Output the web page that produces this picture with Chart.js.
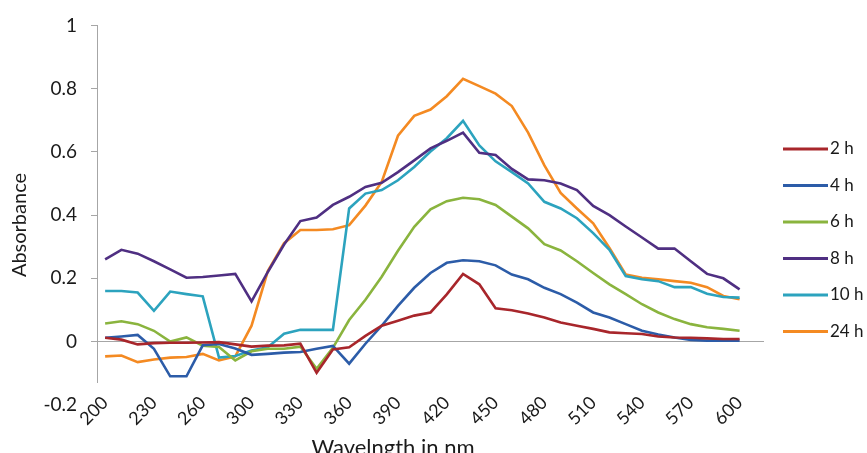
<!DOCTYPE html>
<html>
<head>
<meta charset="utf-8">
<title>Absorbance vs wavelength</title>
<script src="https://cdn.jsdelivr.net/npm/chart.js@4"></script>
<style>
  body { margin: 0; background: #fff; }
  #wrap { width: 867px; height: 453px; }
</style>
</head>
<body>
<div id="wrap"><canvas id="absChart"></canvas></div>
<script>
// wavelengths (nm) - note 290 is not in the data set
const wavelengths = [200, 210, 220, 230, 240, 250, 260, 270, 280,
    300, 310, 320, 330, 340, 350, 360, 370, 380, 390, 400, 410, 420, 430, 440, 450,
    460, 470, 480, 490, 500, 510, 520, 530, 540, 550, 560, 570, 580, 590, 600];
const xTickLabels = [200, 230, 260, 300, 330, 360, 390, 420, 450, 480, 510, 540, 570, 600];
const yTicks = [-0.2, 0, 0.2, 0.4, 0.6, 0.8, 1];

const seriesNames = ['2 h', '4 h', '6 h', '8 h', '10 h', '24 h'];

const abs2h = [0.012, 0.006, -0.009, -0.005, -0.004, -0.004, -0.003, -0.002, -0.009,
    -0.016, -0.013, -0.012, -0.007, -0.099, -0.025, -0.018, 0.018, 0.05, 0.066, 0.082,
    0.092, 0.149, 0.214, 0.181, 0.105, 0.099, 0.089, 0.076, 0.06, 0.05, 0.04, 0.029,
    0.026, 0.024, 0.016, 0.013, 0.012, 0.01, 0.008, 0.008];
const abs4h = [0.012, 0.016, 0.021, -0.023, -0.11, -0.11, -0.012, -0.008, -0.022,
    -0.042, -0.039, -0.035, -0.033, -0.023, -0.014, -0.07, -0.007, 0.05, 0.113, 0.17,
    0.217, 0.249, 0.257, 0.254, 0.241, 0.212, 0.197, 0.17, 0.15, 0.123, 0.092, 0.076,
    0.055, 0.034, 0.022, 0.013, 0.005, 0.003, 0.003, 0.003];
const abs6h = [0.057, 0.064, 0.055, 0.034, 0.0, 0.013, -0.013, -0.017, -0.06,
    -0.031, -0.023, -0.023, -0.016, -0.086, -0.02, 0.068, 0.132, 0.205, 0.287, 0.363,
    0.418, 0.444, 0.455, 0.45, 0.432, 0.395, 0.358, 0.308, 0.288, 0.254, 0.217, 0.181,
    0.15, 0.118, 0.092, 0.071, 0.055, 0.045, 0.04, 0.034];
const abs8h = [0.26, 0.29, 0.278, 0.254, 0.228, 0.202, 0.204, 0.209, 0.214,
    0.127, 0.22, 0.307, 0.381, 0.392, 0.432, 0.458, 0.489, 0.502, 0.536, 0.573,
    0.611, 0.635, 0.661, 0.597, 0.59, 0.546, 0.513, 0.51, 0.5, 0.479, 0.429, 0.4,
    0.364, 0.329, 0.294, 0.294, 0.254, 0.214, 0.2, 0.165];
const abs10h = [0.16, 0.16, 0.155, 0.097, 0.158, 0.15, 0.143, -0.051, -0.046,
    -0.028, -0.018, 0.025, 0.037, 0.037, 0.037, 0.421, 0.468, 0.479, 0.51, 0.552,
    0.601, 0.643, 0.698, 0.62, 0.57, 0.536, 0.5, 0.442, 0.421, 0.39, 0.343, 0.29,
    0.207, 0.197, 0.191, 0.172, 0.172, 0.151, 0.141, 0.139];
const abs24h = [-0.047, -0.044, -0.065, -0.057, -0.051, -0.049, -0.039, -0.06, -0.047,
    0.05, 0.223, 0.311, 0.353, 0.353, 0.355, 0.368, 0.43, 0.505, 0.651, 0.714,
    0.734, 0.776, 0.831, 0.808, 0.784, 0.745, 0.661, 0.557, 0.47, 0.421, 0.374, 0.296,
    0.212, 0.202, 0.197, 0.191, 0.186, 0.172, 0.144, 0.134];

const seriesValues = [abs2h, abs4h, abs6h, abs8h, abs10h, abs24h];
const seriesColors = ['#a8262b', '#2c5ca8', '#8ab43e', '#4f2f82', '#2ca3be', '#f48a22'];

const FONT = 'Lato, "Open Sans", sans-serif';
const TEXT = '#1a1a1a';
const AXIS = '#a6a6a6';

// legend + axis titles drawn by hand, Excel puts them off-centre
const sideText = {
    id: 'sideText',
    afterDraw(chart) {
        const ctx = chart.ctx;
        ctx.save();
        ctx.fillStyle = TEXT;
        ctx.textBaseline = 'middle';

        ctx.font = '17px ' + FONT;
        chart.data.datasets.forEach((ds, i) => {
            const y = 149 + i * 36.5;
            ctx.strokeStyle = ds.borderColor;
            ctx.lineWidth = 3;
            ctx.beginPath();
            ctx.moveTo(783, y);
            ctx.lineTo(828, y);
            ctx.stroke();
            ctx.textAlign = 'left';
            ctx.fillText(ds.label, 830, y);
        });

        ctx.font = '22px ' + FONT;
        ctx.textAlign = 'center';
        ctx.fillText('Wavelngth in nm', 393, 448);

        ctx.font = '20px ' + FONT;
        ctx.translate(20, 225);
        ctx.rotate(-Math.PI / 2);
        ctx.fillText('Absorbance', 0, 0);
        ctx.restore();
    }
};

new Chart(document.getElementById('absChart'), {
    type: 'line',
    data: {
        // one empty slot after 600, the axis runs a bit past the last point
        labels: wavelengths.concat(['']),
        datasets: seriesNames.map((name, i) => ({
            label: name,
            data: seriesValues[i],
            borderColor: seriesColors[i],
            backgroundColor: seriesColors[i],
            borderWidth: 2.6,
            pointRadius: 0,
            tension: 0,
            fill: false
        }))
    },
    options: {
        responsive: true,
        maintainAspectRatio: false,
        animation: false,
        layout: { padding: { top: 22, right: 103, left: 0, bottom: 0 } },
        plugins: {
            legend: { display: false },
            tooltip: { enabled: false }
        },
        scales: {
            x: {
                type: 'category',
                offset: true,
                afterFit: (scale) => { scale.height = 71; },
                grid: { display: false },
                border: { display: false },
                ticks: {
                    autoSkip: false,
                    minRotation: 45,
                    maxRotation: 45,
                    padding: 2,
                    color: TEXT,
                    font: { family: FONT, size: 18 },
                    callback: function (value) {
                        const lab = this.getLabelForValue(value);
                        return xTickLabels.includes(lab) ? String(lab) : '';
                    }
                }
            },
            y: {
                min: -0.128,
                max: 1,
                afterFit: (scale) => { scale.width = 97; },
                afterBuildTicks: (scale) => {
                    scale.ticks = yTicks.map(v => ({ value: v }));
                },
                border: { display: true, color: AXIS, width: 1 },
                grid: {
                    drawTicks: true,
                    tickLength: 6,
                    lineWidth: 1,
                    color: (c) => (c.tick && c.tick.value === 0 ? AXIS : 'rgba(0,0,0,0)'),
                    tickColor: (c) => (c.tick && c.tick.value === -0.2 ? 'rgba(0,0,0,0)' : AXIS)
                },
                ticks: {
                    padding: 14,
                    color: TEXT,
                    font: { family: FONT, size: 19 },
                    callback: (v) => String(Math.round(v * 10) / 10)
                }
            }
        }
    },
    plugins: [sideText]
});
</script>
</body>
</html>
